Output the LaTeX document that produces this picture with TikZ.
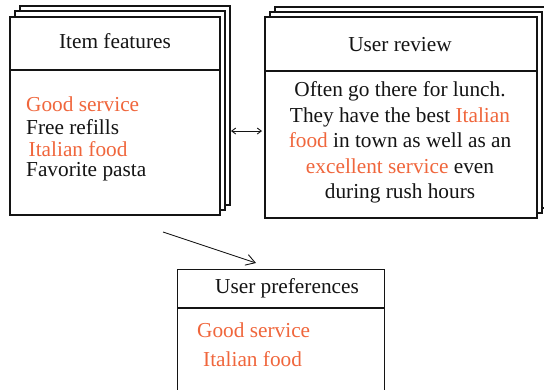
\documentclass[tikz,border=0pt]{standalone}
\usepackage{fontspec}
\setmainfont{Liberation Serif}
\usetikzlibrary{arrows.meta}
\definecolor{accent}{RGB}{240,102,60}
\definecolor{ink}{RGB}{20,20,20}
\begin{document}
\begin{tikzpicture}[x=1pt,y=-1pt,
  panel/.style={draw=ink, line width=1.1pt, fill=white, inner sep=0pt},
  divider/.style={draw=ink, line width=1.1pt},
  txt/.style={inner sep=0pt, text=ink, font=\fontsize{21.3}{22.5}\selectfont},
  hl/.style={txt, text=accent},
  link/.style={draw=ink, line width=0.9pt}]
\useasboundingbox (0,0) rectangle (544,389);
\clip (0,0) rectangle (544,389);
% left stack
\node[panel, minimum width=210pt, minimum height=199pt] (itemback2) at (125,105.5) {};
\node[panel, minimum width=210pt, minimum height=199pt] (itemback1) at (120,110.5) {};
\node[panel, minimum width=210pt, minimum height=198pt] (item) at (115,116) {};
\draw[divider] (10,70) -- (220,70);
\node[txt] (itemtitle) at (115,41) {Item features};
\node[hl, anchor=west] (f1) at (26,104) {Good service};
\node[txt, anchor=west] (f2) at (26,127) {Free refills};
\node[hl, anchor=west] (f3) at (28.5,149) {Italian food};
\node[txt, anchor=west] (f4) at (26,172) {Favorite pasta};
% right stack
\node[panel, minimum width=272pt, minimum height=201pt] (revback2) at (411,107.5) {};
\node[panel, minimum width=272pt, minimum height=201pt] (revback1) at (406,112.5) {};
\node[panel, minimum width=272pt, minimum height=201pt] (review) at (401,117.5) {};
\draw[divider] (265,71) -- (537,71);
\node[txt] (revtitle) at (400,45) {User review};
\node[txt, align=center, font=\fontsize{21.3}{25.5}\selectfont] (revtext) at (400,142.5)
 {Often go there for lunch.\\
  They have the best \textcolor{accent}{Italian}\\
  \textcolor{accent}{food} in town as well as an\\
  \textcolor{accent}{excellent service} even\\
  during rush hours};
% bottom box
\node[panel, minimum width=207pt, minimum height=140pt, anchor=north west] (prefs) at (177,269) {};
\draw[divider] (177,308) -- (384,308);
\node[txt] (preftitle) at (287,288) {User preferences};
\node[hl, anchor=west] (p1) at (197,330) {Good service};
\node[hl, anchor=west] (p2) at (203,359) {Italian food};
% connectors
\coordinate (la) at (231,131);
\coordinate (ra) at (262,131);
\draw[link, {Straight Barb[length=4pt,width=6pt]}-{Straight Barb[length=4pt,width=6pt]}] (la) -- (ra);
\coordinate (astart) at (163,232);
\coordinate (aend) at (256,263);
\draw[link, -{Straight Barb[length=9pt,width=11pt]}] (astart) -- (aend);
\end{tikzpicture}
\end{document}
